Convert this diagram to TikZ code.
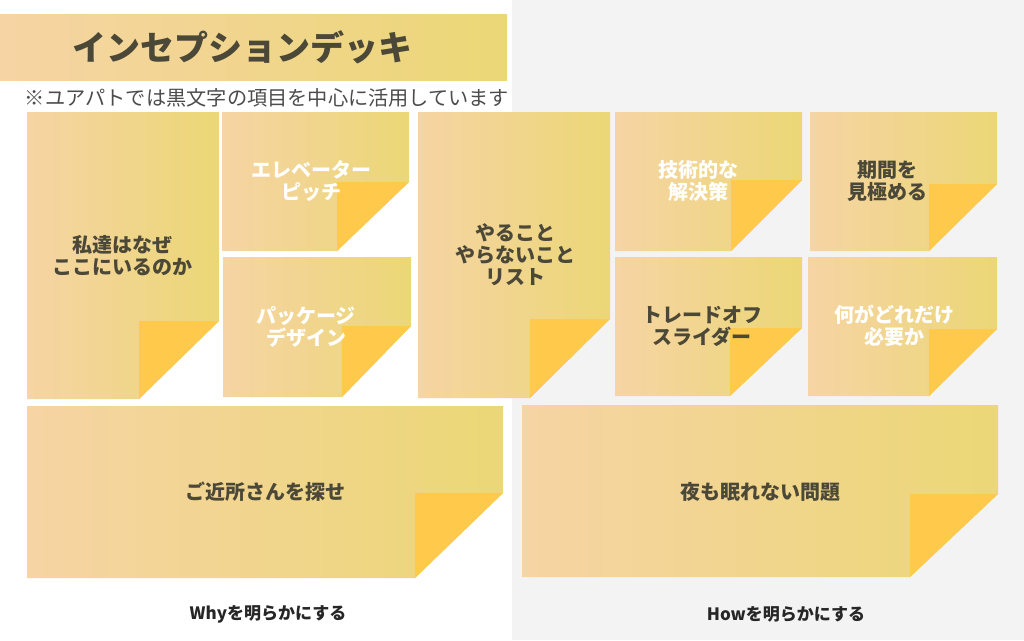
\documentclass[tikz,border=0pt]{standalone}
\usepackage{fontspec}
\setmainfont{Noto Sans CJK JP}
\definecolor{nL}{HTML}{F6D4A4}
\definecolor{nR}{HTML}{EBD776}
\definecolor{foldc}{HTML}{FFC94C}
\definecolor{bgR}{HTML}{F3F3F3}
\definecolor{ink}{HTML}{4B4838}
\tikzset{
  fold/.style={fill=foldc},
  lbl/.style={align=center, inner sep=0pt, font=\fontsize{20}{22}\selectfont\bfseries},
  dark/.style={lbl, text=ink},
  light/.style={lbl, text=white},
  foot/.style={inner sep=0pt, font=\fontsize{17}{20}\selectfont\bfseries, text=black!85}
}
\newcommand\stickynote[6]{%
  \shade[left color=nL, right color=nR] (#1,#2) -- (#3,#2) -- (#3,#6) -- (#5,#4) -- (#1,#4) -- cycle;
  \fill[fold] (#5,#6) -- (#3,#6) -- (#5,#4) -- cycle;
}
\begin{document}
\begin{tikzpicture}[x=1pt,y=-1pt]
\useasboundingbox (0,0) rectangle (1024,640);
\fill[white] (0,0) rectangle (512,640);
\fill[bgR] (512,0) rectangle (1024,640);
% title banner
\shade[left color=nL, right color=nR] (0,14) rectangle (507,80);
\node[inner sep=0pt, text=ink, font=\fontsize{34}{40}\selectfont\bfseries] (title) at (242,47) {インセプションデッキ};
\node[inner sep=0pt, text=black!70, font=\fontsize{20.2}{22}\selectfont] (sub) at (267,98) {※ユアパトでは黒文字の項目を中心に活用しています};
% notes
\stickynote{27}{112}{219}{399}{139}{321}
\stickynote{222}{112}{409}{251}{337}{182}
\stickynote{223}{257}{411}{397}{342}{326}
\stickynote{418}{112}{610}{398}{530}{319}
\stickynote{615}{112}{802}{251}{731}{180}
\stickynote{810}{112}{997}{251}{929}{184}
\stickynote{615}{257}{802}{396}{730}{328}
\stickynote{808}{257}{997}{396}{929}{329}
\stickynote{27}{406}{503}{578}{415}{493}
\stickynote{522}{405}{998}{577}{910}{494}
% labels
\node[dark] (why1) at (122,256) {私達はなぜ\\ここにいるのか};
\node[light] (elev) at (311,181) {エレベーター\\ピッチ};
\node[light] (pkg) at (306,327) {パッケージ\\デザイン};
\node[dark] (todo) at (515,255) {やること\\やらないこと\\リスト};
\node[light] (tech) at (698,181) {技術的な\\解決策};
\node[dark] (term) at (887,181) {期間を\\見極める};
\node[dark] (trade) at (702,326) {トレードオフ\\スライダー};
\node[light] (need) at (894,326) {何がどれだけ\\必要か};
\node[dark] (neigh) at (265,492) {ご近所さんを探せ};
\node[dark] (night) at (760,492) {夜も眠れない問題};
\node[foot] (whyf) at (268,614) {Whyを明らかにする};
\node[foot] (howf) at (786,614) {Howを明らかにする};
\end{tikzpicture}
\end{document}
